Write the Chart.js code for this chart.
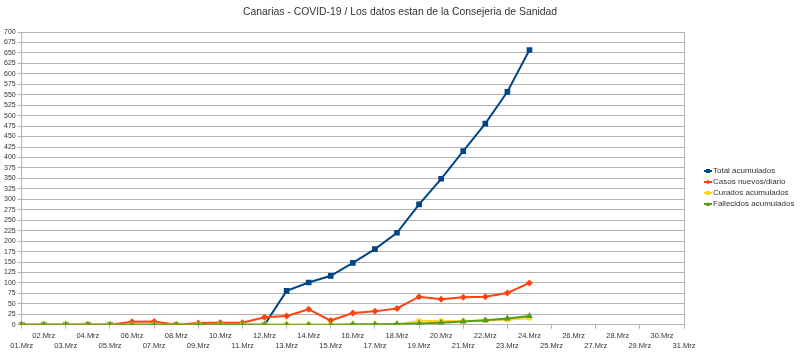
<!DOCTYPE html>
<html>
<head>
<meta charset="utf-8">
<script src="https://cdn.jsdelivr.net/npm/chart.js@4/dist/chart.umd.min.js"></script>
<style>
  html, body { margin: 0; padding: 0; background: #fff; }
  #wrap { position: relative; width: 800px; height: 352px; }
  #title {
    position: absolute; left: 0; top: 6px; width: 800px; text-align: center;
    font: 10.4px "Liberation Sans", Arial, sans-serif; color: #333;
  }
  #legend {
    position: absolute; left: 704px; top: 165px;
    font: 8px "Liberation Sans", Arial, sans-serif; color: #333;
  }
  .lg-row { height: 11px; line-height: 11px; white-space: nowrap; display: flex; align-items: center; }
  .lg-sw  { position: relative; width: 8px; height: 11px; margin-right: 1px; }
  .lg-sw .ln { position: absolute; left: 0; top: 5px; width: 8px; height: 1.5px; }
  .lg-sw .mk { position: absolute; left: 2px; top: 3.5px; width: 4px; height: 4px; }
</style>
</head>
<body>
<div id="wrap">
  <canvas id="chart" width="800" height="352"></canvas>
  <div id="title"></div>
  <div id="legend"></div>
</div>
<script>
// ─────────────────────────────────────────
//  DATA
// ─────────────────────────────────────────
const TITLE = 'Canarias - COVID-19 / Los datos estan de la Consejeria de Sanidad';

const days = [
  '01.Mrz', '02.Mrz', '03.Mrz', '04.Mrz', '05.Mrz', '06.Mrz', '07.Mrz', '08.Mrz',
  '09.Mrz', '10.Mrz', '11.Mrz', '12.Mrz', '13.Mrz', '14.Mrz', '15.Mrz', '16.Mrz',
  '17.Mrz', '18.Mrz', '19.Mrz', '20.Mrz', '21.Mrz', '22.Mrz', '23.Mrz', '24.Mrz',
  '25.Mrz', '26.Mrz', '27.Mrz', '28.Mrz', '29.Mrz', '30.Mrz', '31.Mrz',
];

const totalAcumulados = [0, 0, 0, 0, 0, 0, 0, 0, 0, 0, 0, 0,
                         81, 101, 117, 148, 181, 220, 288, 349, 415, 481, 557, 657];
const casosNuevos     = [0, 0, 0, 0, 0, 7, 8, 0, 4, 5, 5, 18,
                         21, 37, 10, 28, 32, 39, 67, 61, 66, 67, 76, 100];
const curados         = [0, 0, 0, 0, 0, 0, 0, 0, 0, 0, 0, 0,
                         0, 0, 0, 0, 0, 0, 9, 9, 9, 10, 12, 16];
const fallecidos      = [0, 0, 0, 0, 0, 0, 0, 0, 0, 0, 0, 0,
                         0, 0, 0, 1, 1, 2, 3, 5, 8, 11, 15, 21];

const Y_MAX  = 700;
const Y_STEP = 25;

// ─────────────────────────────────────────
//  STYLE
// ─────────────────────────────────────────
const FONT   = '"Liberation Sans", Arial, sans-serif';
const GRID   = '#b3b3b3';
const TEXT   = '#333333';

const series = [
  { label: 'Total acumulados',      data: totalAcumulados, color: '#004586', style: 'rect',     r: 4,   w: 2, order: 3 },
  { label: 'Casos nuevos/diario',   data: casosNuevos,     color: '#ff420e', style: 'rectRot',  r: 3.5, w: 2, order: 2 },
  { label: 'Curados acumulados',    data: curados,         color: '#ffd320', style: 'rect',     r: 3.5, w: 2, order: 1 },
  { label: 'Fallecidos acumulados', data: fallecidos,      color: '#579d1c', style: 'triangle', r: 4,   w: 2, order: 0 },
];

// right border of the plot area
const frame = {
  id: 'frame',
  afterDraw(chart) {
    const { ctx, chartArea: a } = chart;
    ctx.save();
    ctx.strokeStyle = GRID;
    ctx.lineWidth = 1;
    ctx.beginPath();
    ctx.moveTo(Math.round(a.right) + 0.5, a.top);
    ctx.lineTo(Math.round(a.right) + 0.5, a.bottom);
    ctx.stroke();
    ctx.restore();
  },
};

// ─────────────────────────────────────────
//  CHART
// ─────────────────────────────────────────
document.getElementById('title').textContent = TITLE;

const chart = new Chart(document.getElementById('chart'), {
  type: 'line',
  data: {
    labels: days,
    datasets: series.map(s => ({
      label:           s.label,
      data:            s.data,
      borderColor:     s.color,
      backgroundColor: s.color,
      borderWidth:     s.w,
      pointStyle:      s.style,
      pointRadius:     s.r,
      pointBorderWidth: 0,
      tension:         0,
      order:           s.order,
    })),
  },
  options: {
    responsive: false,
    animation: false,
    layout: { padding: { left: 2, right: 116, top: 32, bottom: -1 } },
    plugins: {
      legend:  { display: false },
      tooltip: { enabled: false },
      title:   { display: false },
    },
    scales: {
      x: {
        offset: false,
        grid: {
          drawOnChartArea: false,
          tickLength: 4,
          color: c => (c.index % 2 === 0 ? GRID : 'rgba(0,0,0,0)'),
        },
        border: { color: GRID },
        ticks: {
          autoSkip: false,
          maxRotation: 0,
          minRotation: 0,
          padding: 2,
          color: TEXT,
          font: { family: FONT, size: 7.5, lineHeight: 1.35 },
          callback: (v, i) => (i % 2 === 1 ? [days[i], ''] : ['', days[i]]),
        },
      },
      y: {
        min: 0,
        max: Y_MAX,
        grid:   { color: GRID, tickLength: 4 },
        border: { color: GRID },
        ticks: {
          stepSize: Y_STEP,
          autoSkip: false,
          maxTicksLimit: 100,
          padding: 2,
          color: TEXT,
          font: { family: FONT, size: 7 },
        },
      },
    },
  },
  plugins: [frame],
});

// ─────────────────────────────────────────
//  LEGEND
// ─────────────────────────────────────────
const legend = document.getElementById('legend');
series.forEach(s => {
  const row = document.createElement('div');
  row.className = 'lg-row';
  let mk = `background:${s.color};`;
  if (s.style === 'rectRot') mk += 'transform:rotate(45deg) scale(0.8);';
  if (s.style === 'triangle') mk = `width:0;height:0;background:none;border-left:2.5px solid transparent;border-right:2.5px solid transparent;border-bottom:4px solid ${s.color};`;
  row.innerHTML = `
    <span class="lg-sw"><span class="ln" style="background:${s.color}"></span><span class="mk" style="${mk}"></span></span>
    <span>${s.label}</span>
  `;
  legend.appendChild(row);
});
</script>
</body>
</html>
